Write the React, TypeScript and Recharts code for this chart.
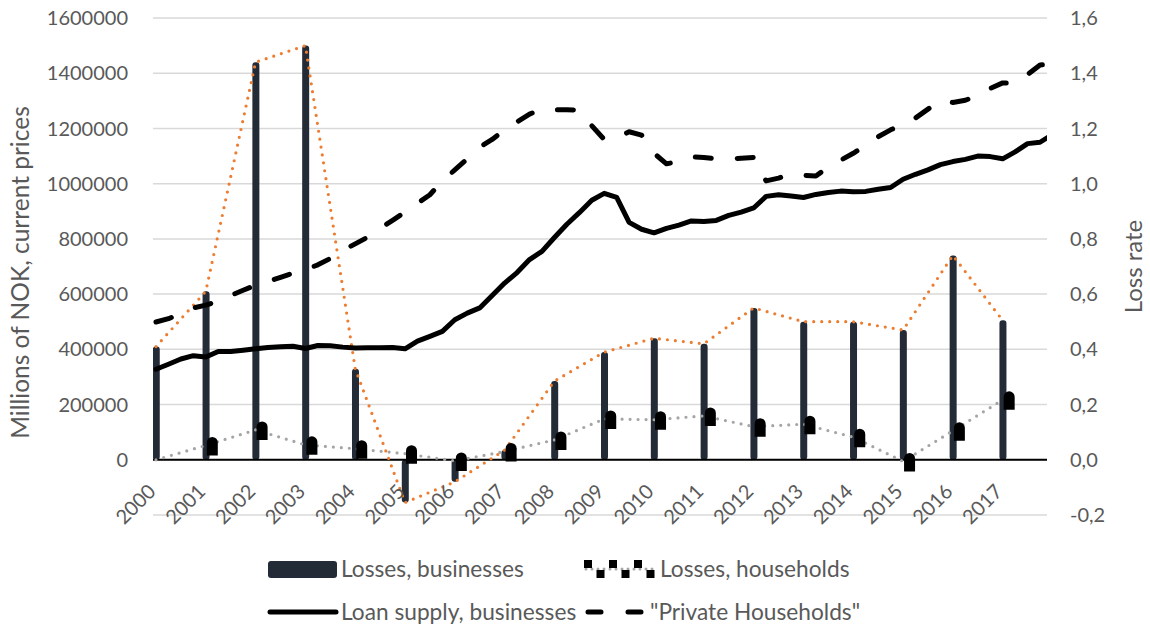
import React from 'react';
import {
  ComposedChart,
  Bar,
  Line,
  XAxis,
  YAxis,
  CartesianGrid,
  ReferenceLine,
  Legend,
} from 'recharts';

// Annual loss rates (per cent of lending)
const years = [2000, 2001, 2002, 2003, 2004, 2005, 2006, 2007, 2008, 2009, 2010, 2011, 2012, 2013, 2014, 2015, 2016, 2017];
const lossBusinesses = [0.41, 0.61, 1.44, 1.5, 0.33, -0.155, -0.08, 0.035, 0.285, 0.39, 0.44, 0.42, 0.55, 0.5, 0.5, 0.47, 0.74, 0.505];
const lossHouseholds = [0.0, 0.052, 0.108, 0.054, 0.04, 0.022, -0.004, 0.03, 0.072, 0.148, 0.145, 0.159, 0.12, 0.129, 0.082, -0.006, 0.105, 0.217];

// Quarterly loan stock, millions of NOK, from 2000Q1
const loanStartYear = 2000;
const loanBusinesses = [
  328000, 346000, 365000, 377000, 372000, 392000, 392000, 397000,
  402000, 407000, 409000, 411000, 403000, 414000, 413000, 408000,
  405000, 406000, 406000, 407000, 402000, 430000, 447000, 465000,
  507000, 531000, 550000, 595000, 640000, 678000, 725000, 755000,
  805000, 853000, 895000, 940000, 965000, 950000, 860000, 835000,
  822000, 838000, 850000, 865000, 863000, 867000, 885000, 897000,
  912000, 954000, 960000, 955000, 950000, 961000, 968000, 973000,
  971000, 972000, 980000, 986000, 1016000, 1034000, 1050000, 1069000,
  1080000, 1088000, 1100000, 1098000, 1090000, 1115000, 1145000, 1150000,
  1178000,
];
const loanHouseholds = [
  499000, 511000, 530000, 550000, 560000, 575000, 595000, 614000,
  632000, 646000, 661000, 676000, 689000, 706000, 729000, 758000,
  782000, 806000, 838000, 867000, 897000, 929000, 960000, 1010000,
  1050000, 1090000, 1132000, 1160000, 1195000, 1224000, 1252000, 1270000,
  1268000, 1268000, 1266000, 1210000, 1160000, 1165000, 1188000, 1176000,
  1110000, 1072000, 1080000, 1097000, 1095000, 1090000, 1090000, 1092000,
  1095000, 1010000, 1020000, 1035000, 1030000, 1028000, 1060000, 1085000,
  1110000, 1138000, 1170000, 1195000, 1215000, 1238000, 1270000, 1302000,
  1294000, 1302000, 1320000, 1345000, 1365000, 1365000, 1395000, 1430000,
  1434000,
];

const leftTicks = [0, 200000, 400000, 600000, 800000, 1000000, 1200000, 1400000, 1600000];
const rightTicks = [-0.2, 0, 0.2, 0.4, 0.6, 0.8, 1.0, 1.2, 1.4, 1.6];

const lossRows = years.map((year, i) => ({
  year,
  lossBiz: lossBusinesses[i],
  lossHh: lossHouseholds[i],
}));
const bizRows = loanBusinesses.map((v, i) => ({ year: loanStartYear + i / 4, loan: v }));
const hhRows = loanHouseholds.map((v, i) => ({ year: loanStartYear + i / 4, loan: v }));

// Layout
const W = 1150;
const H = 632;
const TOP = 18;
const BOTTOM = 117;
const X_AXIS_H = 30;
const PLOT_H = H - TOP - BOTTOM;
const ZERO_Y = TOP + (PLOT_H * 1.6) / 1.8;

const FONT = 'Lato, "Open Sans", sans-serif';
const TEXT = '#595959';
const NAVY = '#232B37';
const ORANGE = '#ED7D31';
const GREY = '#A5A5A5';

// Year labels hang below the zero line, slanted at 45 degrees
const YearTick = (props: any) => {
  const { x, payload } = props;
  const ax = x + 1;
  const ay = ZERO_Y + 33;
  return (
    <text
      x={ax}
      y={ay}
      textAnchor="end"
      transform={`rotate(-45, ${ax}, ${ay})`}
      fill={TEXT}
      fontSize={20}
      fontFamily={FONT}
    >
      {payload.value}
    </text>
  );
};

const HouseholdMark = (props: any) => {
  const { cx, cy, index } = props;
  if (cx == null || cy == null || index === 0) return <g key={`hm-${index}`} />;
  const x = cx + 1;
  const y = cy - 8;
  return (
    <path
      key={`hm-${index}`}
      d={`M${x},${y + 5} a5.5,5.5 0 0 1 11,0 v13 h-11 z`}
      fill="#000"
    />
  );
};

const legendText = { fill: TEXT, fontSize: 22.7, fontFamily: FONT } as const;

const ChartLegend = () => {
  const r1 = 569;
  const r2 = 612;
  const squares = [0, 1, 2, 3, 4, 5];
  return (
    <svg width={W} height={90} style={{ display: 'block' }} viewBox={`0 545 ${W} 90`}>
      <rect x={268} y={r1 - 8} width={69} height={17} rx={3} fill={NAVY} />
      <text x={341} y={r1 + 8} {...legendText}>Losses, businesses</text>

      <line x1={586} y1={r1} x2={656} y2={r1} stroke={GREY} strokeWidth={3} strokeDasharray="0 6" strokeLinecap="round" />
      {squares.map((k) => (
        <rect key={k} x={584 + k * 12.5} y={k % 2 === 0 ? r1 - 9 : r1 + 1} width={8} height={8} fill="#000" />
      ))}
      <text x={660} y={r1 + 8} {...legendText}>Losses, households</text>

      <line x1={270} y1={r2} x2={336} y2={r2} stroke="#000" strokeWidth={5} strokeLinecap="round" />
      <text x={341} y={r2 + 8} {...legendText}>Loan supply, businesses</text>

      <line x1={588} y1={r2} x2={643} y2={r2} stroke="#000" strokeWidth={5} strokeDasharray="13 27" strokeLinecap="round" />
      <text x={650} y={r2 + 8} {...legendText}>"Private Households"</text>
    </svg>
  );
};

export default function App() {
  return (
    <div style={{ position: 'absolute', left: 0, top: 0, width: W, height: H, background: '#fff' }}>
      <ComposedChart
        width={W}
        height={H}
        data={lossRows}
        margin={{ top: TOP, right: 0, bottom: BOTTOM - X_AXIS_H, left: 0 }}
      >
        <CartesianGrid yAxisId="right" vertical={false} stroke="#D9D9D9" strokeWidth={1.5} />
        <XAxis
          dataKey="year"
          type="number"
          domain={[1999.94, 2017.89]}
          allowDataOverflow
          ticks={years}
          interval={0}
          height={X_AXIS_H}
          axisLine={false}
          tickLine={false}
          tick={<YearTick />}
        />
        <YAxis
          yAxisId="left"
          orientation="left"
          width={153}
          domain={[-200000, 1600000]}
          ticks={leftTicks}
          allowDataOverflow
          axisLine={false}
          tickLine={false}
          tickSize={0}
          tickMargin={25}
          tick={{ fill: TEXT, fontSize: 20, fontFamily: FONT }}
          label={{
            value: 'Millions of NOK, current prices',
            angle: -90,
            position: 'center',
            dx: -56,
            dy: 6,
            style: { fill: TEXT, fontSize: 24.5, fontFamily: FONT, textAnchor: 'middle' },
          }}
        />
        <YAxis
          yAxisId="right"
          orientation="right"
          width={103}
          domain={[-0.2, 1.6]}
          ticks={rightTicks}
          allowDataOverflow
          axisLine={false}
          tickLine={false}
          tickSize={0}
          tickMargin={23}
          tickFormatter={(v: number) => v.toFixed(1).replace('.', ',')}
          tick={{ fill: TEXT, fontSize: 20, fontFamily: FONT }}
          label={{
            value: 'Loss rate',
            angle: -90,
            position: 'center',
            dx: 35,
            dy: 0,
            style: { fill: TEXT, fontSize: 24, fontFamily: FONT, textAnchor: 'middle' },
          }}
        />
        <Bar
          yAxisId="right"
          dataKey="lossBiz"
          name="Losses, businesses"
          fill={NAVY}
          barSize={7}
          radius={3}
          isAnimationActive={false}
        />
        <ReferenceLine yAxisId="right" y={0} stroke="#000" strokeWidth={2} />
        <Line
          yAxisId="right"
          dataKey="lossBiz"
          stroke={ORANGE}
          strokeWidth={3.2}
          strokeDasharray="0 8"
          strokeLinecap="round"
          dot={false}
          legendType="none"
          isAnimationActive={false}
        />
        <Line
          yAxisId="right"
          dataKey="lossHh"
          name="Losses, households"
          stroke={GREY}
          strokeWidth={3.2}
          strokeDasharray="0 8"
          strokeLinecap="round"
          dot={<HouseholdMark />}
          isAnimationActive={false}
        />
        <Line
          yAxisId="left"
          data={bizRows}
          dataKey="loan"
          name="Loan supply, businesses"
          stroke="#000"
          strokeWidth={5}
          strokeLinecap="round"
          strokeLinejoin="round"
          dot={false}
          isAnimationActive={false}
        />
        <Line
          yAxisId="left"
          data={hhRows}
          dataKey="loan"
          name={'"Private Households"'}
          stroke="#000"
          strokeWidth={5}
          strokeDasharray="16 26"
          strokeLinecap="round"
          strokeLinejoin="round"
          dot={false}
          isAnimationActive={false}
        />
        <Legend
          layout="horizontal"
          verticalAlign="middle"
          align="center"
          content={<ChartLegend />}
          wrapperStyle={{ top: 545, left: 0, width: W, height: 90 }}
        />
      </ComposedChart>
    </div>
  );
}
